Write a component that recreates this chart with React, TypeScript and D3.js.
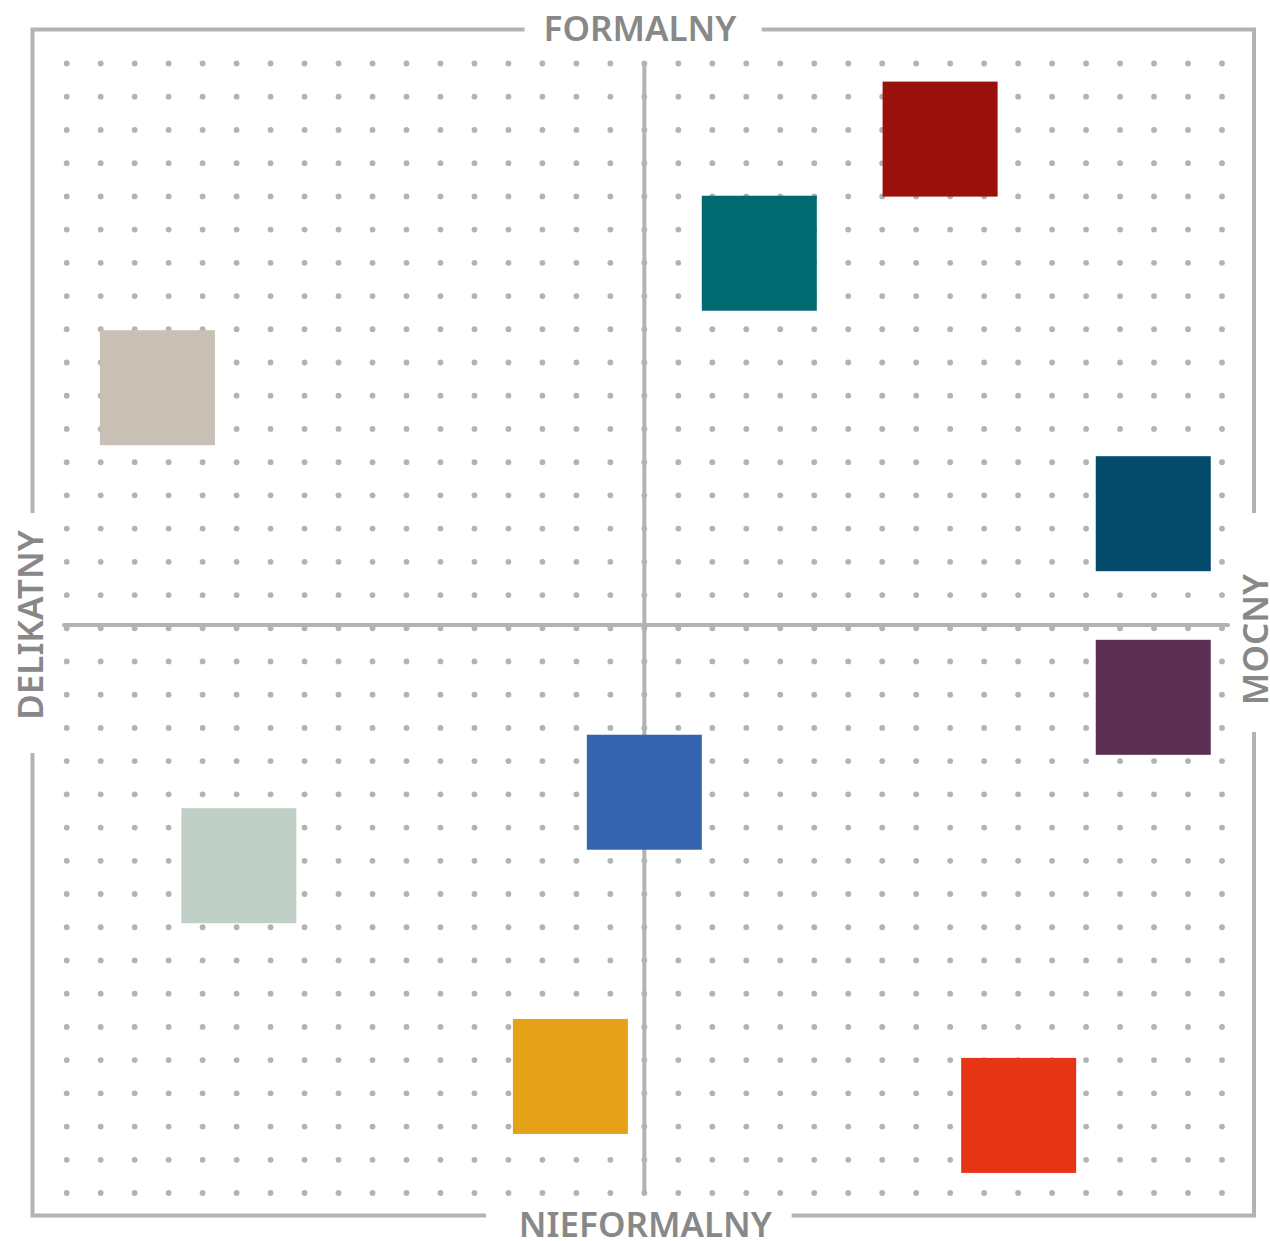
import React from "react";
import * as d3 from "d3";

const W = 1270;
const H = 1241;

// Axis labels
const labelTop = "FORMALNY";
const labelBottom = "NIEFORMALNY";
const labelLeft = "DELIKATNY";
const labelRight = "MOCNY";

// Items: x = delikatny(-100) .. mocny(100), y = nieformalny(-100) .. formalny(100)
const itemIds = ["a", "b", "c", "d", "e", "f", "g", "h", "i"];
const itemX = [51.2, 19.9, -84.3, 88.1, 88.1, 0, -70.2, -12.8, 64.8];
const itemY = [86.0, 65.8, 42.0, 19.7, -12.8, -29.6, -42.6, -79.9, -86.8];
const itemColors = [
  "#9a100a",
  "#006a70",
  "#c8c0b5",
  "#034a6b",
  "#5b2f52",
  "#3465ae",
  "#c0d0c6",
  "#e5a219",
  "#e53514",
];

const DOT_COLS = 35;
const DOT_ROWS = 35;

export default function App() {
  const x = d3.scaleLinear().domain([-100, 100]).range([66.7, 1222]);
  const y = d3.scaleLinear().domain([-100, 100]).range([1190, 60]);
  const dotX = d3.scaleLinear().domain([0, DOT_COLS - 1]).range([66.7, 1222]);
  const dotY = d3.scaleLinear().domain([0, DOT_ROWS - 1]).range([63.5, 1193]);

  const dots: { cx: number; cy: number }[] = [];
  d3.range(DOT_ROWS).forEach((r) =>
    d3.range(DOT_COLS).forEach((c) => dots.push({ cx: dotX(c), cy: dotY(r) }))
  );

  const lineColor = "#b3b3b3";
  const textColor = "#888888";
  const size = 115;

  const L = 32.5, R = 1254, T = 29.5, B = 1215.5;
  const borderPath = [
    `M524.5,${T}H${L}V513`,
    `M${L},753V${B}H486`,
    `M791.7,${B}H${R}V732`,
    `M${R},513V${T}H761.7`,
  ].join("");

  const font = "'Noto Sans', sans-serif";
  const x0 = x(0);

  return (
    <div style={{ position: "absolute", left: 0, top: 0 }}>
      <svg width={W} height={H} style={{ display: "block" }}>
        <rect width={W} height={H} fill="#ffffff" />
        <g>
          {dots.map((d, i) => (
            <circle key={i} cx={d.cx} cy={d.cy} r={2.9} fill={lineColor} />
          ))}
        </g>
        <path d={borderPath} fill="none" stroke={lineColor} strokeWidth={4} strokeLinejoin="miter" />
        <line x1={x0} x2={x0} y1={64} y2={1191} stroke={lineColor} strokeWidth={4} strokeLinecap="round" />
        <line x1={64} x2={1228} y1={625} y2={625} stroke={lineColor} strokeWidth={4} strokeLinecap="round" />
        <g>
          {itemIds.map((id, i) => (
            <rect
              key={id}
              x={x(itemX[i]) - size / 2}
              y={y(itemY[i]) - size / 2}
              width={size}
              height={size}
              fill={itemColors[i]}
            />
          ))}
        </g>
        <g fontFamily={font} fontWeight={600} fontSize={35} fill={textColor}>
          <text x={640} y={41} textAnchor="middle">{labelTop}</text>
          <text x={645.4} y={1237} textAnchor="middle">{labelBottom}</text>
          <text transform="translate(42.7,625) rotate(-90)" textAnchor="middle">{labelLeft}</text>
          <text transform="translate(1268,639.5) rotate(-90)" textAnchor="middle">{labelRight}</text>
        </g>
      </svg>
    </div>
  );
}
